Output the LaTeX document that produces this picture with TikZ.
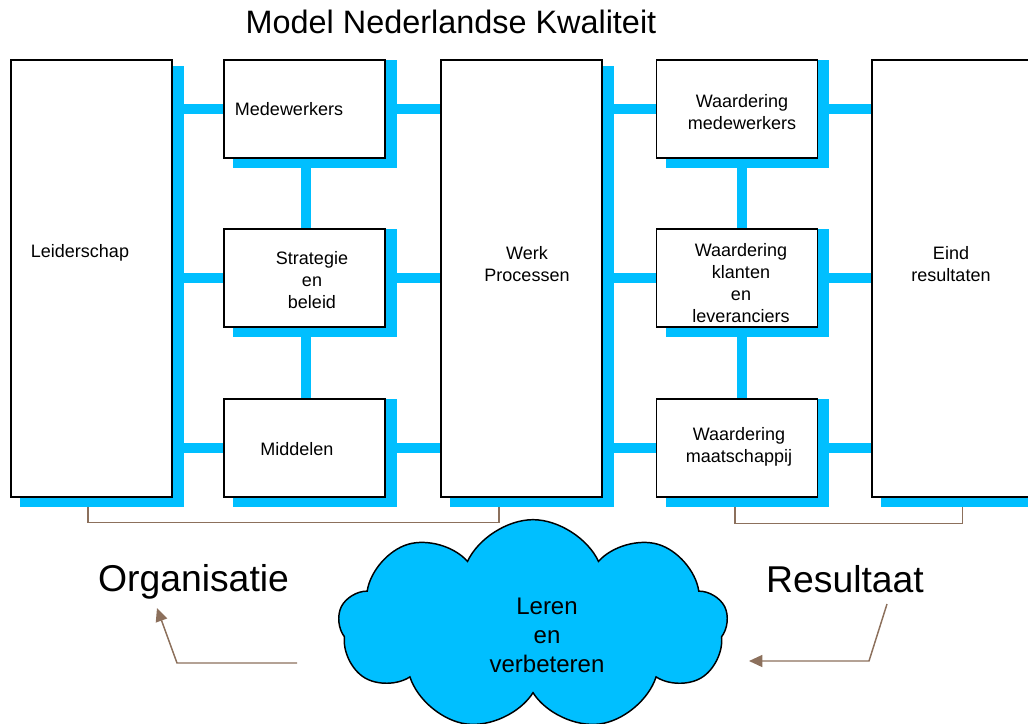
\documentclass[tikz,border=0pt]{standalone}
\usepackage{fontspec}
\setmainfont{Liberation Sans}
\usetikzlibrary{calc,arrows.meta,shapes.symbols,backgrounds}
\definecolor{barblue}{RGB}{0,191,255}
\definecolor{bracketbrown}{RGB}{140,112,92}

\begin{document}
\begin{tikzpicture}[x=0.75pt, y=-0.75pt,
  blok/.style={draw, line width=1.1pt, fill=white, minimum width=120.75pt, inner sep=0pt},
  smallblok/.style={blok, minimum height=73.5pt},
  tallblok/.style={blok, minimum height=327.75pt},
  lbl/.style={font=\fontsize{13.5}{16.5}\selectfont, align=center},
  bigtext/.style={font=\fontsize{28}{34}\selectfont},
  bar/.style={barblue, line width=7.5pt},
  bracket/.style={bracketbrown, line width=1.1pt},
  tip/.style={-{Triangle[length=10pt,width=9pt]}}]
  \useasboundingbox (0,0) rectangle (1028,724);
  % Title
  \node[font=\fontsize{24.3}{28}\selectfont] (titel) at (451,22) {Model Nederlandse Kwaliteit};
  % Boxes
  \node[tallblok] (lead) at (91.5,278.5) {};
  \node[smallblok] (med) at (304.5,109) {};
  \node[smallblok] (strat) at (304.5,278) {};
  \node[smallblok] (midd) at (304.5,448) {};
  \node[tallblok] (werk) at (521.5,278.5) {};
  \node[smallblok] (wmed) at (737,109) {};
  \node[smallblok] (wkl) at (737,278) {};
  \node[smallblok] (wmaa) at (737,448) {};
  \node[tallblok] (eind) at (952.5,278.5) {};
  % Box texts
  \node[lbl] (leadtxt) at (80,253) {Leiderschap};
  \node[lbl] (medtxt) at (289,109) {Medewerkers};
  \node[lbl] (strattxt) at (312,280) {Strategie\\en\\beleid};
  \node[lbl] (middtxt) at (297,449) {Middelen};
  \node[lbl] (werktxt) at (527,264) {Werk\\Processen};
  \node[lbl] (wmedtxt) at (742,112) {Waardering\\medewerkers};
  \node[lbl] (wkltxt) at (741,283) {Waardering\\klanten\\en\\leveranciers};
  \node[lbl] (wmaatxt) at (739,447) {Waardering\\maatschappij};
  \node[lbl] (eindtxt) at (951,264) {Eind\\resultaten};
  % Shadows and bars
  \begin{scope}[on background layer]
    \foreach \b/\t in {lead/7,med/1,strat/1,midd/1,werk/7,wmed/1,wkl/1,wmaa/1,eind/7}
      \fill[barblue] ($(\b.north west)+(10,\t)$) rectangle ($(\b.south east)+(11,9)$);
    \foreach \l/\r in {med/wmed,strat/wkl,midd/wmaa} {
      \draw[bar] (lead.east |- \l.west) -- (\l.west);
      \draw[bar] (\l.east) -- (werk.west |- \l.east);
      \draw[bar] (werk.east |- \r.west) -- (\r.west);
      \draw[bar] (\r.east) -- (eind.west |- \r.east);
    }
    \draw[bar] ($(med.south)+(1.5,0)$) -- ($(strat.north)+(1.5,0)$);
    \draw[bar] ($(strat.south)+(1.5,0)$) -- ($(midd.north)+(1.5,0)$);
    \draw[bar] ($(wmed.south)+(5,0)$) -- ($(wkl.north)+(5,0)$);
    \draw[bar] ($(wkl.south)+(5,0)$) -- ($(wmaa.north)+(5,0)$);
  \end{scope}
  % Brackets
  \draw[bracket] ($(lead.south)+(-3.5,9)$) -- ++(0,16) -| ($(werk.south)+(-22.5,9)$);
  \draw[bracket] ($(wmaa.south)+(-2,9)$) -- ++(0,17) -| ($(eind.south)+(10,9)$);
  % Cloud
  \node[cloud, cloud puffs=9, cloud puff arc=130, aspect=1.85, draw, line width=1.1pt,
    fill=barblue, minimum width=292pt, minimum height=158pt, inner sep=0pt] (wolk) at (533,625) {};
  \node[font=\fontsize{18}{21.75}\selectfont, align=center] (wolktxt) at (547,635)
    {Leren\\en\\verbeteren};
  % Labels
  \node[bigtext, anchor=base] (org) at (193.5,591) {Organisatie};
  \node[bigtext, anchor=base] (res) at (845,592) {Resultaat};
  % Arrows
  \coordinate (orgstart) at (297,663);
  \coordinate (orgtip) at (157,608);
  \coordinate (resstart) at (887,604);
  \coordinate (restip) at (749,661);
  \draw[bracket, tip] (orgstart) -- (177,663) -- (orgtip);
  \draw[bracket, tip] (resstart) -- (869,661) -- (restip);
\end{tikzpicture}
\end{document}
